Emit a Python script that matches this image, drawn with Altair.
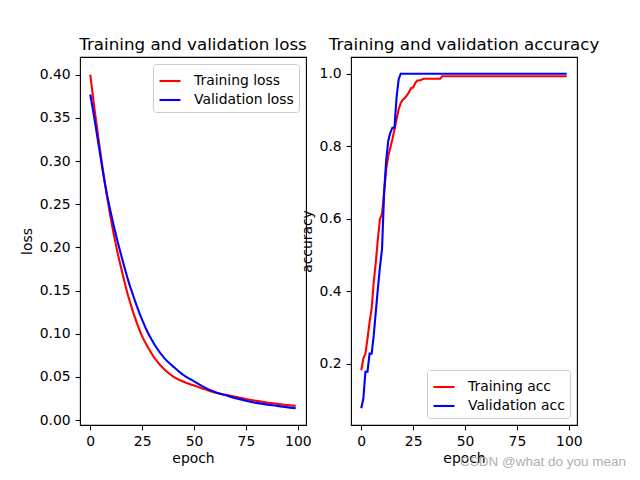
import altair as alt
import pandas as pd

# ---- data ----
loss_epochs = [0, 2, 4, 6, 7, 8, 10, 12, 14, 16, 18, 19, 20, 22, 25, 28, 30, 32, 36, 40, 45, 50, 55, 60, 65, 70, 75, 80, 90, 99]
train_loss = [0.400, 0.361, 0.325, 0.291, 0.275, 0.260, 0.232, 0.207, 0.185, 0.165, 0.146, 0.138, 0.130, 0.1155, 0.097,
              0.0835, 0.0755, 0.0685, 0.058, 0.0505, 0.0445, 0.040, 0.036, 0.032, 0.0295, 0.027, 0.0245, 0.0225, 0.019, 0.0165]
val_loss = [0.377, 0.349, 0.319, 0.289, 0.275, 0.262, 0.239, 0.218, 0.199, 0.181, 0.164, 0.156, 0.149, 0.135, 0.116,
            0.100, 0.0915, 0.0835, 0.071, 0.062, 0.052, 0.045, 0.038, 0.0325, 0.029, 0.0255, 0.0225, 0.020, 0.0165, 0.0138]

train_acc_epochs = list(range(0, 40)) + [99]
train_acc = [0.182, 0.214, 0.228, 0.269, 0.315, 0.352, 0.425, 0.480, 0.544, 0.599,
             0.613, 0.672, 0.736, 0.773, 0.796, 0.819, 0.846, 0.874, 0.901, 0.919,
             0.928, 0.933, 0.940, 0.949, 0.960, 0.962, 0.974, 0.981, 0.981, 0.983,
             0.986, 0.986, 0.986, 0.986, 0.986, 0.986, 0.986, 0.986, 0.986, 0.993,
             0.993]
val_acc_epochs = list(range(0, 20)) + [99]
val_acc = [0.077, 0.104, 0.178, 0.178, 0.228, 0.228, 0.278, 0.343, 0.407, 0.467,
           0.516, 0.672, 0.760, 0.815, 0.837, 0.851, 0.851, 0.934, 0.984, 1.0,
           1.0]

loss_names = ["Training loss", "Validation loss"]
acc_names = ["Training acc", "Validation acc"]
x_ticks = [0, 25, 50, 75, 100]
loss_ticks = [0.0, 0.05, 0.10, 0.15, 0.20, 0.25, 0.30, 0.35, 0.40]
acc_ticks = [0.2, 0.4, 0.6, 0.8, 1.0]
watermark = "CSDN @what do you mean"

loss_df = pd.DataFrame({
    "epoch": loss_epochs * 2,
    "value": train_loss + val_loss,
    "series": [loss_names[0]] * len(loss_epochs) + [loss_names[1]] * len(loss_epochs),
})
acc_df = pd.DataFrame({
    "epoch": train_acc_epochs + val_acc_epochs,
    "value": train_acc + val_acc,
    "series": [acc_names[0]] * len(train_acc_epochs) + [acc_names[1]] * len(val_acc_epochs),
})

FONT = "DejaVu Sans"
W, H = 226, 368
xdom = [-4.95, 103.95]


def legend(orient):
    return alt.Legend(title=None, orient=orient, offset=7, padding=5,
                      strokeColor="#cccccc", fillColor="rgba(255,255,255,0.8)",
                      cornerRadius=3, labelFontSize=13.9, labelFont=FONT, labelColor="black",
                      symbolType="stroke", symbolSize=441, symbolStrokeWidth=2.1,
                      labelOffset=12, rowPadding=0)


def title(t):
    return alt.TitleParams(t, fontSize=16.7, font=FONT, fontWeight="normal", color="black",
                           anchor="middle", offset=3)


xaxis = alt.Axis(values=x_ticks, title="epoch", format="d", titlePadding=3)

left = alt.Chart(loss_df).mark_line(strokeWidth=2.1, interpolate="monotone").encode(
    x=alt.X("epoch:Q", scale=alt.Scale(domain=xdom, nice=False, zero=False), axis=xaxis),
    y=alt.Y("value:Q", scale=alt.Scale(domain=[-0.0056, 0.4204], nice=False, zero=False),
            axis=alt.Axis(values=loss_ticks, format=".2f", title="loss")),
    color=alt.Color("series:N", scale=alt.Scale(domain=loss_names, range=["#ff0000", "#0000ff"]),
                    legend=legend("top-right")),
).properties(width=W, height=H, title=title("Training and validation loss"))

acc_lines = alt.Chart(acc_df).mark_line(strokeWidth=2.1).encode(
    x=alt.X("epoch:Q", scale=alt.Scale(domain=xdom, nice=False, zero=False), axis=xaxis),
    y=alt.Y("value:Q", scale=alt.Scale(domain=[0.031, 1.046], nice=False, zero=False),
            axis=alt.Axis(values=acc_ticks, format=".1f", title="accuracy")),
    color=alt.Color("series:N", scale=alt.Scale(domain=acc_names, range=["#ff0000", "#0000ff"]),
                    legend=legend("bottom-right")),
)
wm = alt.Chart(pd.DataFrame({"t": [watermark]})).mark_text(
    align="left", baseline="middle", fontSize=13.5, font="Liberation Sans", color="#b0b0b0"
).encode(text="t:N", x=alt.value(109), y=alt.value(H + 37))

right = alt.layer(acc_lines, wm).properties(width=W, height=H,
                                             title=title("Training and validation accuracy"))

chart = alt.hconcat(left, right, spacing=45, bounds="flush").resolve_scale(
    color="independent").resolve_legend(color="independent").properties(
    padding={"left": 11, "top": 28, "right": 0, "bottom": 0}
).configure_view(stroke="black", strokeWidth=1.1).configure_axis(
    grid=False, domain=False, tickColor="black", tickSize=4.9, tickWidth=1.1,
    labelFont=FONT, labelFontSize=13.9, labelColor="black", labelPadding=4.9,
    titleFont=FONT, titleFontSize=13.9, titleFontWeight="normal", titleColor="black",
    titlePadding=5,
)

chart.save("out.html", embed_options={"renderer": "svg", "actions": False})
